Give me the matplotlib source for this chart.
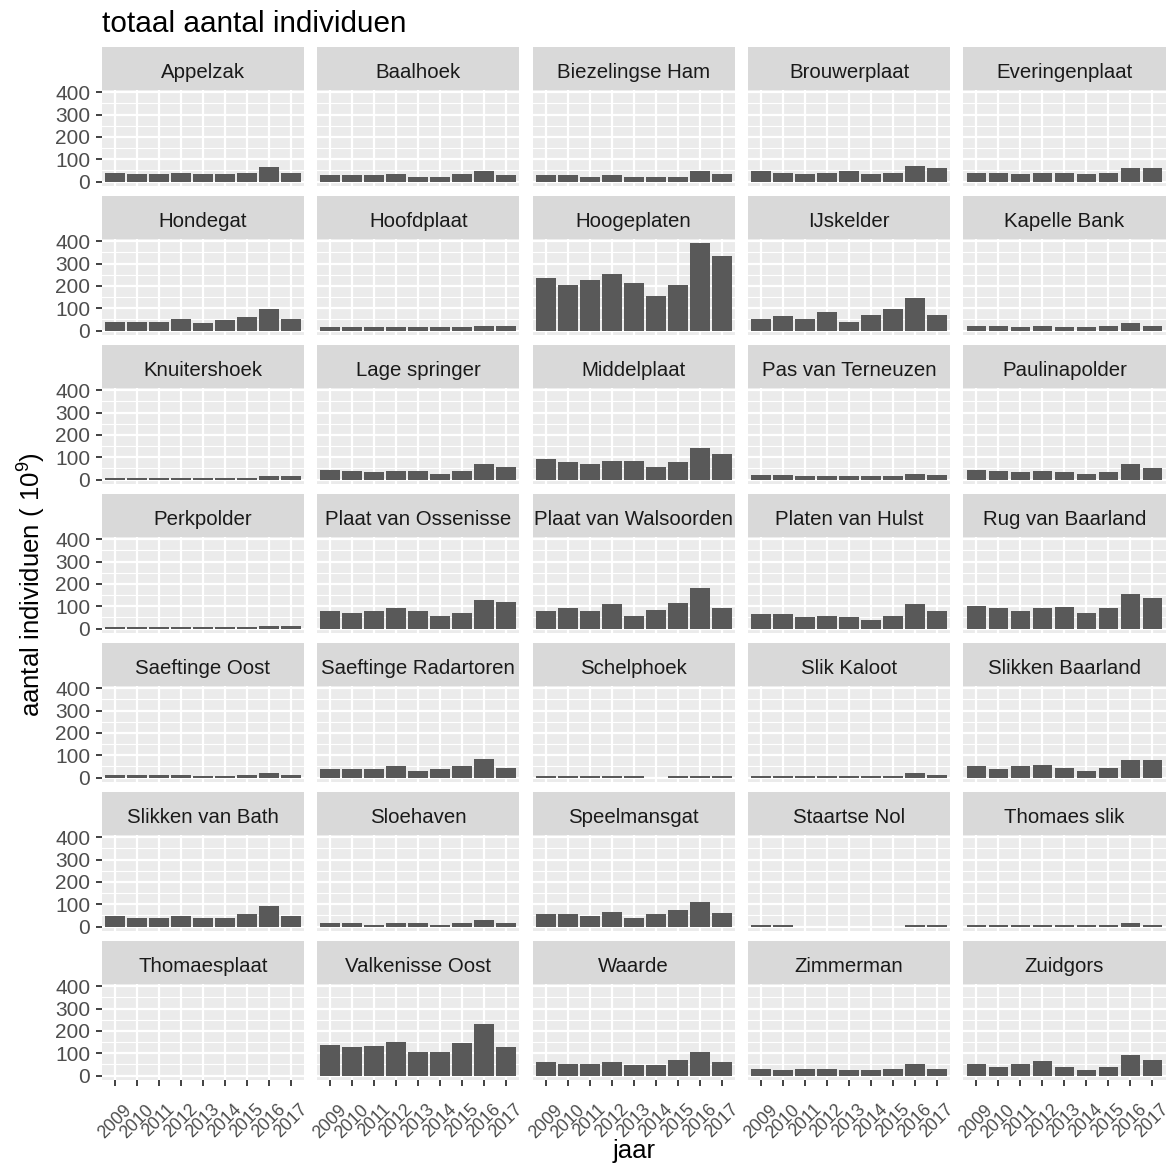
import numpy as np
import matplotlib
matplotlib.use("Agg")
import matplotlib.pyplot as plt

plt.rcParams["font.family"] = ["Liberation Sans", "DejaVu Sans"]
plt.rcParams["mathtext.fontset"] = "custom"
plt.rcParams["mathtext.rm"] = "Liberation Sans"
plt.rcParams["mathtext.it"] = "Liberation Sans:italic"

nan = np.nan
years = ["2009", "2010", "2011", "2012", "2013", "2014", "2015", "2016", "2017"]

# totals per site and year (10^9 individuals)
appelzak = [40, 33, 33, 40, 33, 33, 40, 66, 40]
baalhoek = [28, 28, 28, 35, 21, 21, 35, 46, 28]
biezelingse_ham = [28, 28, 21, 28, 21, 21, 21, 46, 35]
brouwerplaat = [46, 40, 35, 40, 46, 35, 40, 72, 60]
everingenplaat = [40, 40, 35, 40, 40, 35, 40, 60, 60]
hondegat = [40, 40, 40, 52, 34, 46, 61, 97, 52]
hoofdplaat = [16, 16, 16, 16, 16, 16, 16, 22, 22]
hoogeplaten = [237, 205, 225, 254, 211, 156, 205, 390, 332]
ijskelder = [52, 66, 52, 84, 40, 72, 97, 147, 72]
kapelle_bank = [22, 22, 16, 22, 16, 16, 22, 34, 22]
knuitershoek = [7, 7, 7, 7, 7, 7, 7, 15, 15]
lage_springer = [45, 40, 34, 40, 40, 25, 40, 72, 58]
middelplaat = [90, 78, 72, 84, 84, 58, 78, 141, 115]
pas_van_terneuzen = [22, 22, 15, 15, 15, 15, 15, 27, 22]
paulinapolder = [45, 40, 34, 40, 34, 27, 34, 72, 52]
perkpolder = [7, 7, 7, 7, 7, 7, 7, 13, 13]
plaat_van_ossenisse = [78, 72, 78, 90, 78, 58, 72, 127, 121]
plaat_van_walsoorden = [78, 90, 78, 109, 58, 84, 115, 180, 90]
platen_van_hulst = [66, 66, 52, 58, 52, 40, 58, 109, 78]
rug_van_baarland = [103, 90, 78, 90, 97, 72, 90, 153, 135]
saeftinge_oost = [13, 13, 13, 13, 7, 7, 13, 19, 13]
saeftinge_radartoren = [40, 40, 40, 52, 31, 40, 52, 84, 45]
schelphoek = [7, 7, 7, 7, 7, nan, 7, 7, 7]
slik_kaloot = [7, 7, 7, 7, 7, 7, 7, 19, 13]
slikken_baarland = [52, 40, 52, 58, 45, 31, 45, 78, 78]
slikken_van_bath = [48, 40, 40, 48, 40, 40, 55, 93, 48]
sloehaven = [16, 16, 7, 16, 16, 7, 16, 28, 16]
speelmansgat = [55, 55, 48, 67, 40, 55, 73, 112, 63]
staartse_nol = [7, 7, nan, nan, nan, nan, nan, 7, 7]
thomaes_slik = [7, 7, 7, 7, 7, 7, 7, 15, 7]
thomaesplaat = [nan, nan, nan, nan, nan, nan, nan, nan, nan]
valkenisse_oost = [138, 126, 133, 152, 106, 106, 146, 230, 126]
waarde = [60, 52, 52, 60, 48, 48, 69, 106, 60]
zimmerman = [29, 23, 29, 29, 23, 23, 29, 54, 29]
zuidgors = [54, 38, 54, 65, 38, 26, 38, 91, 72]

sites = ["Appelzak", "Baalhoek", "Biezelingse Ham", "Brouwerplaat", "Everingenplaat",
         "Hondegat", "Hoofdplaat", "Hoogeplaten", "IJskelder", "Kapelle Bank",
         "Knuitershoek", "Lage springer", "Middelplaat", "Pas van Terneuzen", "Paulinapolder",
         "Perkpolder", "Plaat van Ossenisse", "Plaat van Walsoorden", "Platen van Hulst", "Rug van Baarland",
         "Saeftinge Oost", "Saeftinge Radartoren", "Schelphoek", "Slik Kaloot", "Slikken Baarland",
         "Slikken van Bath", "Sloehaven", "Speelmansgat", "Staartse Nol", "Thomaes slik",
         "Thomaesplaat", "Valkenisse Oost", "Waarde", "Zimmerman", "Zuidgors"]
site_values = [appelzak, baalhoek, biezelingse_ham, brouwerplaat, everingenplaat,
               hondegat, hoofdplaat, hoogeplaten, ijskelder, kapelle_bank,
               knuitershoek, lage_springer, middelplaat, pas_van_terneuzen, paulinapolder,
               perkpolder, plaat_van_ossenisse, plaat_van_walsoorden, platen_van_hulst, rug_van_baarland,
               saeftinge_oost, saeftinge_radartoren, schelphoek, slik_kaloot, slikken_baarland,
               slikken_van_bath, sloehaven, speelmansgat, staartse_nol, thomaes_slik,
               thomaesplaat, valkenisse_oost, waarde, zimmerman, zuidgors]

W, H = 1175, 1167
fig = plt.figure(figsize=(W / 100, H / 100), dpi=100)
fig.patch.set_facecolor("white")

ncol, nrow = 5, 7
left0, col_step, pw = 101.7, 215.4, 202.3
top0, row_step, ph = 90.0, 149.0, 96.0
strip_h = 42.7

ymax = np.nanmax([np.nanmax(v) if not np.all(np.isnan(v)) else 0 for v in site_values])
ylo, yhi = -0.05 * ymax, 1.05 * ymax
x = np.arange(1, len(years) + 1)

def fig_rect(left, top, width, height):
    return [left / W, 1 - (top + height) / H, width / W, height / H]

for i, (name, vals) in enumerate(zip(sites, site_values)):
    r, c = divmod(i, ncol)
    left = left0 + c * col_step
    top = top0 + r * row_step

    # strip with facet label
    sax = fig.add_axes(fig_rect(left, top - strip_h, pw, strip_h))
    sax.set_facecolor("#D9D9D9")
    sax.set_xticks([]); sax.set_yticks([])
    for s in sax.spines.values():
        s.set_visible(False)
    sax.text(0.5, (strip_h - 30.5) / strip_h, name, ha="center", va="baseline", fontsize=14.7,
             color="#1A1A1A", transform=sax.transAxes)

    ax = fig.add_axes(fig_rect(left, top, pw, ph))
    ax.set_facecolor("#EBEBEB")
    v = np.array(vals, dtype=float)
    m = ~np.isnan(v)
    ax.bar(x[m], v[m], width=0.9, color="#595959", zorder=2)
    ax.set_xlim(0.4, len(years) + 0.6)
    ax.set_ylim(ylo, yhi)
    ax.set_xticks(x)
    ax.set_yticks([0, 100, 200, 300, 400])
    ax.set_yticks([50, 150, 250, 350], minor=True)
    ax.grid(which="major", color="white", lw=1.6, zorder=0)
    ax.grid(which="minor", axis="y", color="white", lw=0.8, zorder=0)
    ax.set_axisbelow(True)
    for s in ax.spines.values():
        s.set_visible(False)
    ax.tick_params(which="minor", length=0)

    if c == 0:
        ax.tick_params(axis="y", which="major", length=4.3, width=1.3, color="#333333",
                       labelcolor="#4D4D4D", labelsize=15, pad=4.0)
    else:
        ax.tick_params(axis="y", which="major", length=0, labelleft=False)

    if r == nrow - 1:
        ax.set_xticklabels(years)
        ax.tick_params(axis="x", which="major", length=4.3, width=1.3, color="#333333",
                       labelcolor="#4D4D4D", labelsize=12.8, pad=11)
        for lab in ax.get_xticklabels():
            lab.set_rotation(45)
            lab.set_ha("center")
    else:
        ax.tick_params(axis="x", which="major", length=0, labelbottom=False)

fig.text(left0 / W, 1 - 32.3 / H, "totaal aantal individuen", ha="left", va="baseline",
         fontsize=21.4, color="black")
fig.text(633.7 / W, 1 - 1151 / H, "jaar", ha="center", va="center", fontsize=18.5, color="black")
fig.text(32 / W, 1 - 585 / H, r"aantal individuen ( $\mathregular{10^9}$)", ha="center", va="center",
         rotation=90, fontsize=18.5, color="black")

fig.savefig("out.png", dpi=100, facecolor="white")
